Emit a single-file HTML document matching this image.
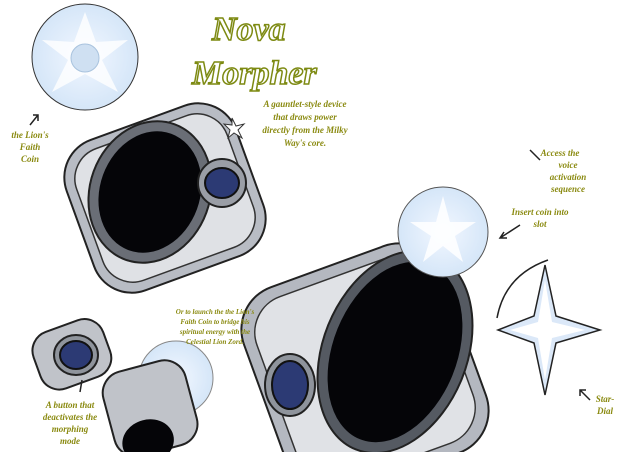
<!DOCTYPE html>
<html><head><meta charset="utf-8"><style>
html,body{margin:0;padding:0;background:#fff;width:640px;height:452px;overflow:hidden}
svg{display:block}
.t{font-family:"Liberation Serif",serif;font-style:italic;font-weight:bold;fill:#fff;stroke:#7d8a12;stroke-width:1.5}
.l{font-family:"Liberation Serif",serif;font-style:italic;font-weight:bold;fill:#8a8a10;font-size:9px}
</style></head><body>
<svg width="640" height="452" viewBox="0 0 640 452">
<defs>
<radialGradient id="cg" cx="50%" cy="50%" r="50%"><stop offset="0" stop-color="#f2f7ff"/><stop offset="1" stop-color="#d5e6f8"/></radialGradient>
<clipPath id="c"><rect width="640" height="452"/></clipPath>
</defs>
<g clip-path="url(#c)">
<circle cx="85" cy="57" r="53" fill="url(#cg)" stroke="#333" stroke-width="1"/>
<polygon points="85,12 96,42 128,40 102,60 118,92 85,74 52,92 68,60 42,40 74,42" fill="#fff" opacity=".8"/>
<circle cx="85" cy="58" r="14" fill="#cfe0f2" stroke="#a9c3de"/>
<g transform="rotate(-20 165 198)">
<rect x="75" y="118" width="180" height="160" rx="40" fill="#b8bcc4" stroke="#222" stroke-width="2"/>
<rect x="85" y="128" width="160" height="140" rx="32" fill="#dfe1e5" stroke="#333" stroke-width="1.5"/>
</g>
<g transform="rotate(20 150 192)">
<ellipse cx="150" cy="192" rx="60" ry="72" fill="#6a6e76" stroke="#222" stroke-width="2"/>
<ellipse cx="150" cy="192" rx="50" ry="62" fill="#050508"/>
</g>
<circle cx="222" cy="183" r="24" fill="#9a9ea6" stroke="#222" stroke-width="2"/>
<ellipse cx="222" cy="183" rx="17" ry="15" fill="#2c3a74" stroke="#111" stroke-width="2"/>
<polygon points="232,118 236,126 244,124 238,130 242,138 234,133 228,138 230,130 224,124 232,125" fill="#fff" stroke="#333"/>
<g transform="rotate(-20 365 370)">
<rect x="260" y="260" width="210" height="220" rx="45" fill="#b4b8c0" stroke="#222" stroke-width="2"/>
<rect x="272" y="272" width="186" height="196" rx="38" fill="#e0e2e6" stroke="#333" stroke-width="1.5"/>
</g>
<g transform="rotate(22 395 352)">
<ellipse cx="395" cy="352" rx="72" ry="105" fill="#555a62" stroke="#222" stroke-width="2"/>
<ellipse cx="395" cy="352" rx="62" ry="94" fill="#050508"/>
</g>
<ellipse cx="290" cy="385" rx="25" ry="31" fill="#8f949c" stroke="#222" stroke-width="2"/>
<ellipse cx="290" cy="385" rx="18" ry="24" fill="#2c3a74" stroke="#111" stroke-width="2"/>
<circle cx="443" cy="232" r="45" fill="url(#cg)" stroke="#555"/>
<polygon points="443,196 450,222 476,222 455,236 463,262 443,246 423,262 431,236 410,222 436,222" fill="#fff" opacity=".85"/>
<polygon points="545,265 556,316 600,330 556,343 545,395 534,343 498,330 534,316" fill="#dbe8f8" stroke="#222" stroke-width="1.5"/>
<polygon points="545,280 552,322 585,330 552,338 545,380 538,338 510,330 538,322" fill="#fff"/>
<path d="M497,318 Q505,275 548,260" fill="none" stroke="#222" stroke-width="1.5"/>
<g transform="rotate(-20 70 355)">
<rect x="35" y="325" width="74" height="60" rx="20" fill="#c0c3c9" stroke="#222" stroke-width="2"/>
</g>
<ellipse cx="76" cy="355" rx="22" ry="20" fill="#8f949c" stroke="#222" stroke-width="2"/>
<ellipse cx="76" cy="355" rx="16" ry="14" fill="#2c3a74" stroke="#111" stroke-width="2"/>
<circle cx="176" cy="378" r="37" fill="url(#cg)" stroke="#888"/>
<g transform="rotate(-15 150 410)">
<rect x="108" y="365" width="85" height="87" rx="22" fill="#c0c3c9" stroke="#222" stroke-width="2"/>
<ellipse cx="140" cy="440" rx="26" ry="22" fill="#050508"/>
</g>
<text class="t" x="212" y="40" font-size="34">Nova</text>
<text class="t" x="192" y="84" font-size="34">Morpher</text>
<g class="l" text-anchor="middle" font-size="10">
<text x="305" y="107">A gauntlet-style device</text>
<text x="305" y="120">that draws power</text>
<text x="305" y="133">directly from the Milky</text>
<text x="305" y="146">Way's core.</text>
</g>
<g class="l" text-anchor="middle">
<text x="30" y="138">the Lion's</text>
<text x="30" y="150">Faith</text>
<text x="30" y="162">Coin</text>
<text x="215" y="314" font-size="7">Or to launch the the Lion's</text>
<text x="215" y="324" font-size="7">Faith Coin to bridge his</text>
<text x="215" y="334" font-size="7">spiritual energy with the</text>
<text x="215" y="344" font-size="7">Celestial Lion Zord.</text>
<text x="560" y="156">Access the</text>
<text x="568" y="168">voice</text>
<text x="568" y="180">activation</text>
<text x="568" y="192">sequence</text>
<text x="540" y="215">Insert coin into</text>
<text x="540" y="227">slot</text>
<text x="70" y="408">A button that</text>
<text x="70" y="420">deactivates the</text>
<text x="70" y="432">morphing</text>
<text x="70" y="444">mode</text>
<text x="605" y="402">Star-</text>
<text x="605" y="414">Dial</text>
</g>
<g stroke="#222" stroke-width="1.5" fill="none">
<path d="M30,125 L38,115 M33,115 L38,115 L38,121"/>
<path d="M520,225 L500,238 M504,232 L500,238 L507,238"/>
<path d="M590,400 L580,390 M580,396 L580,390 L586,390"/>
<path d="M540,160 L530,150"/>
<path d="M80,392 L82,380"/>
</g>
</g>
</svg>
</body></html>
